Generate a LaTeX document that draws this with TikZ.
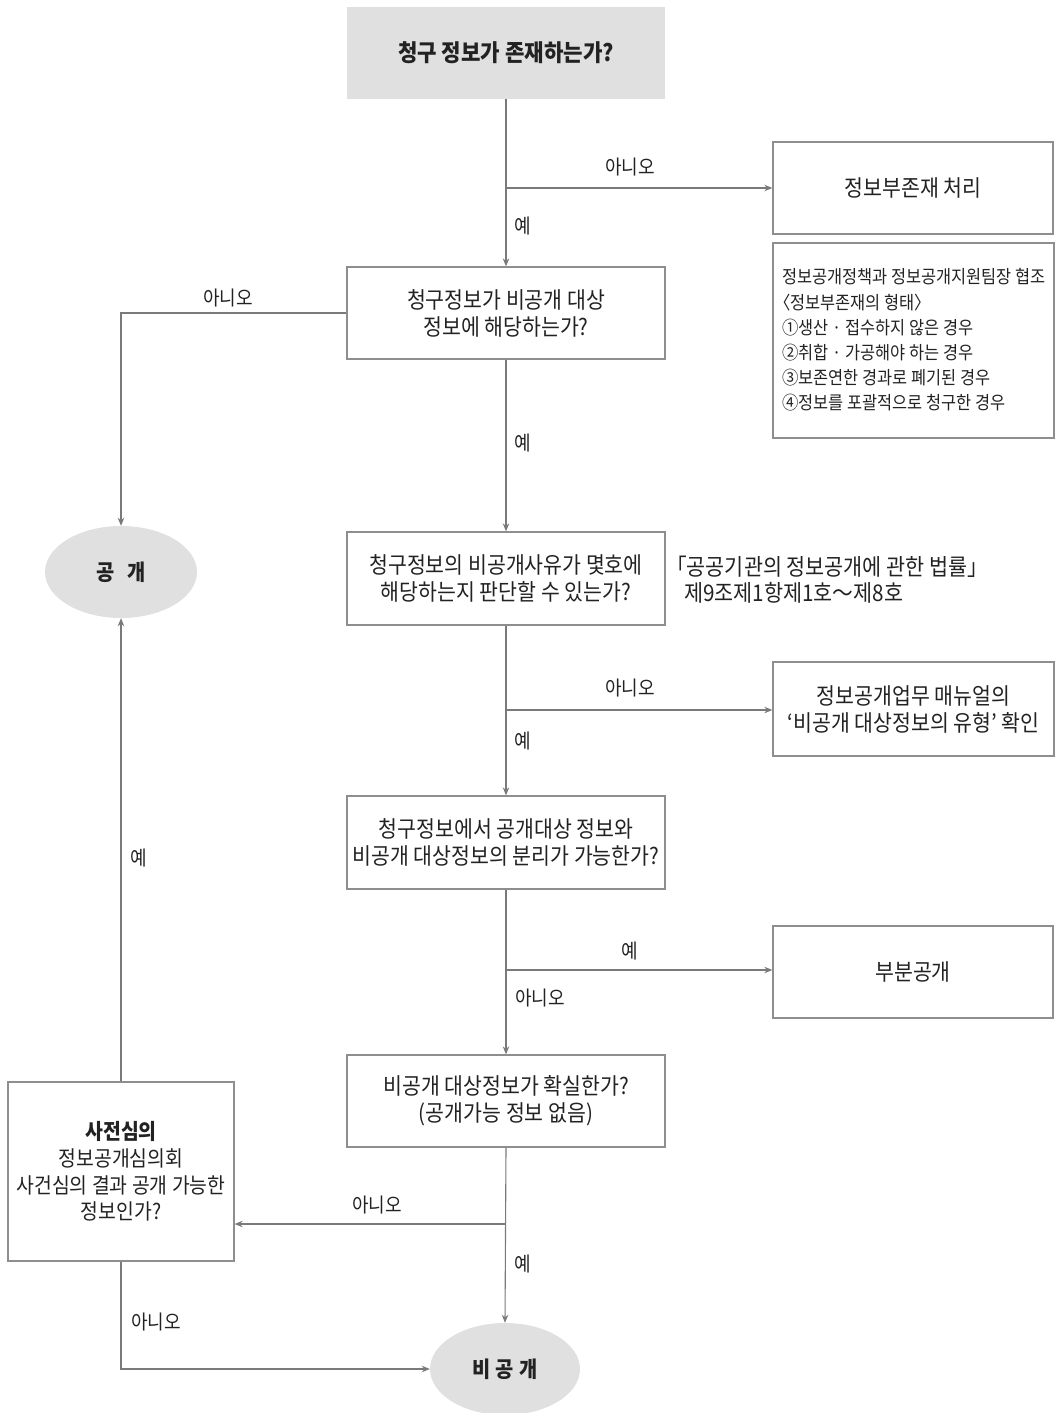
\documentclass[tikz,border=0pt]{standalone}
\usepackage{fontspec}
\setmainfont{Noto Sans CJK KR}[FakeStretch=0.9]
\usetikzlibrary{arrows.meta,calc,shapes.geometric}
\definecolor{linec}{HTML}{7A7A7A}
\definecolor{boxc}{HTML}{8E8E8E}
\definecolor{txtc}{HTML}{222222}
\definecolor{fillc}{HTML}{E0E0E0}
\begin{document}
\begin{tikzpicture}[x=1pt,y=-1pt,
 every node/.style={text=txtc},
 box/.style={draw=boxc, line width=1.3pt, rectangle, align=center, inner sep=0pt, font=\fontsize{22.8}{27}\selectfont},
 gbox/.style={fill=fillc, rectangle, align=center, inner sep=0pt, font=\fontsize{23.5}{27}\selectfont\bfseries},
 oval/.style={ellipse, fill=fillc, inner sep=0pt, font=\fontsize{22}{27}\selectfont\bfseries},
 conn/.style={draw=linec, line width=1.1pt},
 arr/.style={conn, -{Stealth[length=8pt,width=6.5pt]}},
 lbl/.style={inner sep=0pt, font=\fontsize{20}{24}\selectfont},
 plain/.style={inner sep=0pt, align=left}
]
\path[use as bounding box] (0,0) rectangle (1055,1413);

% main column
\node[gbox, minimum width=318pt, minimum height=92pt] (top) at (506,53) {청구 정보가 존재하는가?};
\node[box, minimum width=318pt, minimum height=92pt] (b2) at (506,313) {청구정보가 비공개 대상\\정보에 해당하는가?};
\node[box, minimum width=318pt, minimum height=93pt] (b3) at (506,578.5) {청구정보의 비공개사유가 몇호에\\해당하는지 판단할 수 있는가?};
\node[box, minimum width=318pt, minimum height=93pt] (b4) at (506,842.5) {청구정보에서 공개대상 정보와\\비공개 대상정보의 분리가 가능한가?};
\node[box, minimum width=318pt, minimum height=92pt] (b5) at (506,1101) {비공개 대상정보가 확실한가?\\(공개가능 정보 없음)};

% right column
\node[box, minimum width=280pt, minimum height=92pt] (nf) at (913,188) {정보부존재 처리};
\node[box, minimum width=281pt, minimum height=195pt] (note) at (913.5,340.5) {};
\node[plain, anchor=west, font=\fontsize{18.2}{25.2}\selectfont] (notetext) at (782,340) {정보공개정책과 정보공개지원팀장 협조\\\kern-0.45em〈정보부존재의 형태〉\\①생산 · 접수하지 않은 경우\\②취합 · 가공해야 하는 경우\\③보존연한 경과로 폐기된 경우\\④정보를 포괄적으로 청구한 경우};
\node[plain, anchor=west, font=\fontsize{23}{26}\selectfont] (law) at (666,580) {「공공기관의 정보공개에 관한 법률」\\\hspace{18pt}제9조제1항제1호〜제8호};
\node[box, minimum width=281pt, minimum height=94pt] (man) at (913.5,709) {정보공개업무 매뉴얼의\\‘비공개 대상정보의 유형’ 확인};
\node[box, minimum width=280pt, minimum height=92pt] (part) at (913,972) {부분공개};

% left column
\node[oval, minimum width=152pt, minimum height=92pt] (open) at (121,572) {공\hspace{13pt}개};
\node[box, minimum width=226pt, minimum height=179pt, font=\fontsize{21.5}{26.8}\selectfont] (b6) at (121,1171.5) {{\bfseries 사전심의}\\정보공개심의회\\사건심의 결과 공개 가능한\\정보인가?};
\node[oval, minimum width=150pt, minimum height=92pt] (close) at (505,1369) {비\hspace{5pt}공\hspace{5pt}개};

% junctions
\coordinate (j1) at (506,188);
\coordinate (j3) at (506,710);
\coordinate (j4) at (506,970);
\coordinate (j5) at (506,1224);

% connectors
\draw[arr] (top.south) -- (b2.north);
\draw[arr] (j1) -- (nf.west);
\draw[arr] (b2.west) -| (open.north);
\draw[arr] (b2.south) -- (b3.north);
\draw[arr] (b3.south) -- (b4.north);
\draw[arr] (j3) -- (j3 -| man.west);
\draw[arr] (b4.south) -- (b5.north);
\draw[arr] (j4) -- (j4 -| part.west);
\draw[arr] (b5.south) -- (close.north);
\draw[arr] (j5) -- (j5 -| b6.east);
\draw[arr] (b6.north) -- (open.south);
\draw[arr] (b6.south) |- (close.west);

% labels
\node[lbl] (l1) at (630,167) {아니오};
\node[lbl] (l2) at (523,226) {예};
\node[lbl] (l3) at (228,298) {아니오};
\node[lbl] (l4) at (523,443) {예};
\node[lbl] (l5) at (630,688) {아니오};
\node[lbl] (l6) at (523,741) {예};
\node[lbl] (l7) at (630,951) {예};
\node[lbl] (l8) at (540,998) {아니오};
\node[lbl] (l9) at (377,1205) {아니오};
\node[lbl] (l10) at (523,1264) {예};
\node[lbl] (l11) at (139,858) {예};
\node[lbl] (l12) at (156,1322) {아니오};
\end{tikzpicture}
\end{document}
